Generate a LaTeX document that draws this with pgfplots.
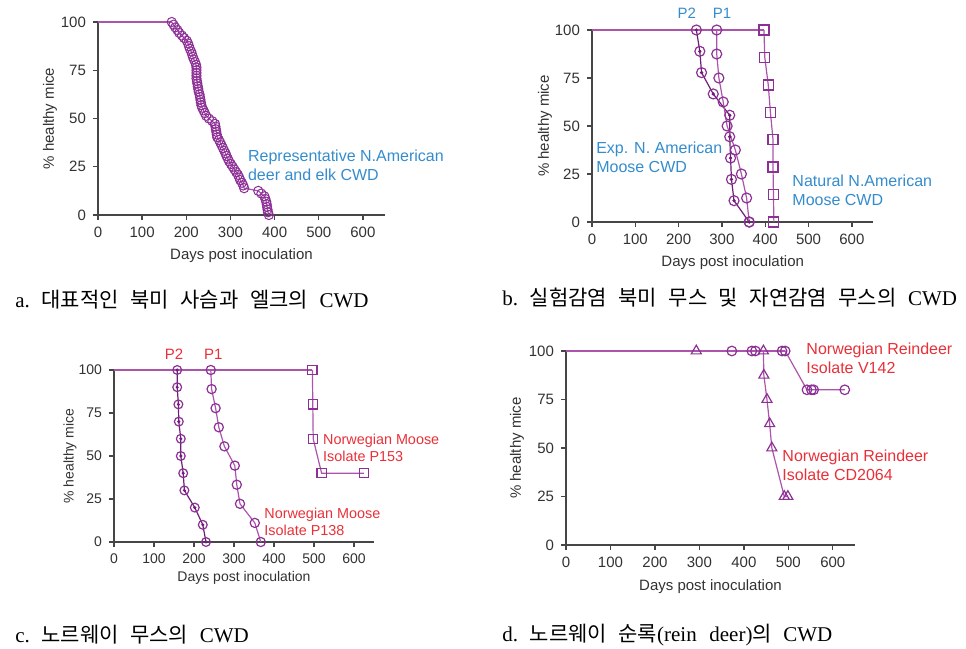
\documentclass[border=0pt]{standalone}
\usepackage{pgfplots}
\usepackage{pgfplotstable}
\pgfplotsset{compat=1.18}
\usepackage{fontspec}
\setmainfont{Liberation Sans}
\newfontfamily\kr{Noto Sans CJK KR}
\newfontfamily\lserif{Liberation Serif}
\definecolor{lineC}{RGB}{172,84,172}
\definecolor{markC}{RGB}{140,48,150}
\definecolor{darkC}{RGB}{110,30,120}
\definecolor{blueC}{RGB}{52,140,205}
\definecolor{redC}{RGB}{232,48,56}
\definecolor{axC}{RGB}{70,70,70}
\definecolor{txtC}{RGB}{50,50,50}
\newcommand\gap{\hspace{0.55em}}

\pgfplotstableread{
x y
167 100
171 98.6
175 97.2
180 95.8
184 94.4
190 93
195 91.7
201 90.3
204 88.9
206 87.5
208 86.1
211 84.7
213 83.3
215 81.9
217 80.6
220 79.2
222 77.8
223 76.4
223 75
223 73.6
223 72.2
223 70.8
224 69.4
225 68.1
226 66.7
227 65.3
228 63.9
230 62.5
231 61.1
232 59.7
233 58.3
234 56.9
236 55.6
239 54.2
242 52.8
245 51.4
251 50
259 48.6
265 47.2
266 45.8
267 44.4
268 43.1
269 41.7
270 40.3
274 38.9
277 37.5
280 36.1
283 34.7
286 33.3
289 31.9
291 30.6
294 29.2
297 27.8
301 26.4
305 25
309 23.6
313 22.2
317 20.8
320 19.4
322 18.1
326 16.7
329 15.3
331 13.9
363 12.5
370 11.1
377 9.7
379 8.3
381 6.9
382 5.6
383 4.2
384 2.8
385 1.4
387 0
}\aData

\pgfplotstableread{
x y
241 100
249 88.9
253 77.8
280 66.7
318 55.6
318 44.4
320 33.3
322 22.2
328 11.1
363 0
}\bPtwo

\pgfplotstableread{
x y
288 100
288 87.5
293 75
303 62.5
312 50
331 37.5
345 25
357 12.5
363 0
}\bPone

\pgfplotstableread{
x y
397 100
399 85.7
407 71.4
412 57.1
418 42.9
418 28.6
419 14.3
420 0
}\bNat

\pgfplotstableread{
x y
158 100
158 90
161 80
162 70
167 60
167 50
173 40
176 30
202 20
222 10
230 0
}\cPtwo

\pgfplotstableread{
x y
242 100
244 88.9
254 77.8
262 66.7
276 55.6
302 44.4
307 33.3
315 22.2
352 11.1
367 0
}\cPone

\pgfplotstableread{
x y
496 100
497 80
498 60
519 40
625 40
}\cPfts

\pgfplotstableread{
x y
373 100
418 100
426 100
486 100
493 100
542 80
552 80
557 80
627 80
}\dV

\pgfplotstableread{
x y
293 100
444 100
445 87.5
452 75
458 62.5
463 50
491 25
499 25
}\dCD

\tikzset{
  ann/.style={anchor=west, align=left, inner sep=0pt, font=\fontsize{8}{9.5}\selectfont},
}
\pgfplotsset{
  km/.style={
    scale only axis, anchor=south west,
    axis lines*=left, xmin=0, xmax=650, ymin=0, ymax=100,
    xtick={0,100,...,600}, ytick={0,25,50,75,100},
    tick align=outside, major tick length=2.5pt,
    axis line style={axC, line width=0.7pt},
    tick style={axC, line width=0.7pt},
    ticklabel style={font=\fontsize{7.5}{8}\selectfont, text=txtC},
    /pgf/number format/assume math mode=true,
    label style={font=\fontsize{7.5}{8}\selectfont, text=txtC},
    xlabel={Days post inoculation}, ylabel={\% healthy mice},
    clip=false,
    every axis plot/.append style={line width=0.6pt},
  },
}

\begin{document}
\begin{tikzpicture}
\useasboundingbox (0,0) rectangle (483pt,324.5pt);

% ---------- a ----------
\begin{axis}[km, at={(49pt,217pt)}, width=143.5pt, height=96.5pt,
  xlabel style={at={(axis description cs:0.5,-0.212)}, anchor=center},
  ylabel style={at={(axis description cs:-0.167,0.5)}, anchor=center}]
\addplot[lineC, no markers] coordinates {(0,100) (167,100)};
\addplot[lineC, mark=o, mark size=2.3pt, mark options={markC, solid, line width=0.5pt}] table {\aData};
\node[ann, text=blueC] at (axis cs:339,26) {Representative N.American\\deer and elk CWD};
\end{axis}

% ---------- b ----------
\begin{axis}[km, at={(296pt,213.5pt)}, width=140.75pt, height=96pt,
  xlabel style={at={(axis description cs:0.5,-0.214)}, anchor=center},
  ylabel style={at={(axis description cs:-0.167,0.5)}, anchor=center}]
\addplot[lineC, no markers] coordinates {(0,100) (397,100)};
\addplot[darkC, mark=o, mark size=2.5pt, mark options={markC, solid}] table {\bPtwo};
\addplot[only marks, mark=*, mark size=0.5pt, darkC] table {\bPtwo};
\addplot[lineC, mark=o, mark size=2.5pt, mark options={markC, solid}] table {\bPone};
\addplot[lineC, mark=square, mark size=2.5pt, mark options={markC, solid}] table {\bNat};
\node[inner sep=0pt, text=blueC, font=\fontsize{7.5}{8}\selectfont] at (axis cs:219,108.7) {P2};
\node[inner sep=0pt, text=blueC, font=\fontsize{7.5}{8}\selectfont] at (axis cs:300,108.7) {P1};
\node[ann, text=blueC] at (axis cs:9,33.5) {Exp. N. American\\Moose CWD};
\node[ann, text=blueC] at (axis cs:462,16.5) {Natural N.American\\Moose CWD};
\end{axis}

% ---------- c ----------
\begin{axis}[km, at={(57pt,53.5pt)}, width=130pt, height=86pt,
  ticklabel style={font=\fontsize{7}{8}\selectfont},
  label style={font=\fontsize{7}{8}\selectfont},
  xlabel style={at={(axis description cs:0.5,-0.209)}, anchor=center},
  ylabel style={at={(axis description cs:-0.169,0.5)}, anchor=center}]
\addplot[lineC, no markers] coordinates {(0,100) (496,100)};
\addplot[darkC, mark=o, mark size=2.2pt, mark options={markC, solid}] table {\cPtwo};
\addplot[only marks, mark=*, mark size=0.45pt, darkC] table {\cPtwo};
\addplot[lineC, mark=o, mark size=2.3pt, mark options={markC, solid}] table {\cPone};
\addplot[lineC, mark=square, mark size=2.3pt, mark options={markC, solid}] table {\cPfts};
\node[inner sep=0pt, text=redC, font=\fontsize{7.5}{8}\selectfont] at (axis cs:150,109) {P2};
\node[inner sep=0pt, text=redC, font=\fontsize{7.5}{8}\selectfont] at (axis cs:248,109) {P1};
\node[ann, text=redC, font=\fontsize{7.2}{8.5}\selectfont] at (axis cs:522,55) {Norwegian Moose\\Isolate P153};
\node[ann, text=redC, font=\fontsize{7.2}{8.5}\selectfont] at (axis cs:375,11.6) {Norwegian Moose\\Isolate P138};
\end{axis}

% ---------- d ----------
\begin{axis}[km, at={(283pt,52pt)}, width=144.5pt, height=97pt,
  xlabel style={at={(axis description cs:0.5,-0.216)}, anchor=center},
  ylabel style={at={(axis description cs:-0.170,0.5)}, anchor=center}]
\addplot[lineC, no markers] coordinates {(0,100) (493,100)};
\addplot[lineC, mark=o, mark size=2.4pt, mark options={markC, solid}] table {\dV};
\addplot[lineC, mark=triangle, mark size=2.9pt, mark options={markC, solid}] table {\dCD};
\node[ann, text=redC] at (axis cs:540,96) {Norwegian Reindeer\\Isolate V142};
\node[ann, text=redC] at (axis cs:486,41) {Norwegian Reindeer\\Isolate CD2064};
\end{axis}

% ---------- captions ----------
\node[anchor=west, inner sep=0pt, font=\fontsize{10.5}{12}\selectfont] at (7.5pt,174.5pt)
  {\lserif a.\gap\kr 대표적인\gap 북미\gap 사슴과\gap 엘크의\gap\lserif CWD};
\node[anchor=west, inner sep=0pt, font=\fontsize{10.5}{12}\selectfont] at (251pt,175.5pt)
  {\lserif b.\gap\kr 실험감염\gap 북미\gap 무스\gap 및\gap 자연감염\gap 무스의\gap\lserif CWD};
\node[anchor=west, inner sep=0pt, font=\fontsize{10.5}{12}\selectfont] at (7.5pt,7pt)
  {\lserif c.\gap\kr 노르웨이\gap 무스의\gap\lserif CWD};
\node[anchor=west, inner sep=0pt, font=\fontsize{10.5}{12}\selectfont] at (251pt,7pt)
  {\lserif d.\gap\kr 노르웨이\gap 순록\lserif(rein\hspace{0.6em}deer)\kr 의\gap\lserif CWD};
\end{tikzpicture}
\end{document}
